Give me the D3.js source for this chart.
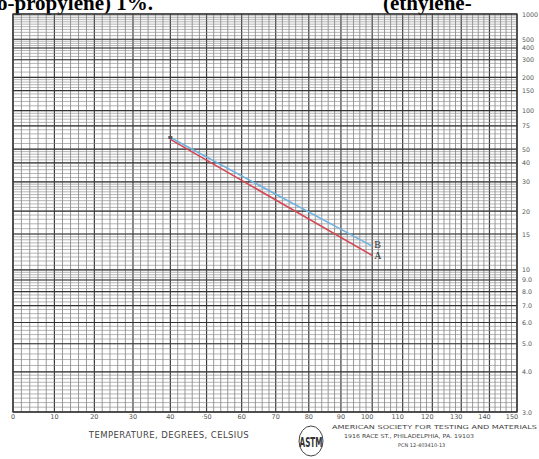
<!DOCTYPE html>
<html><head><meta charset="utf-8">
<script src="https://cdn.jsdelivr.net/npm/d3@7/dist/d3.min.js"></script>
<style>body{margin:0;background:#fff}svg{display:block}</style>
</head><body>
<script>
// ---- data ----
const temps = [40, 100];              // °C
const seriesA = [59.0, 11.7];         // cSt, red line "A"
const seriesB = [61.0, 13.0];         // cSt, blue line "B"
const seriesNames = ["A", "B"];
const xTickLabels = [0,10,20,30,40,50,60,70,80,90,100,110,120,130,140,150];
const yTickValues = [3,4,5,6,7,8,9,10,15,20,30,40,50,75,100,150,200,300,400,500,1000];
const yTickLabels = ["3.0","4.0","5.0","6.0","7.0","8.0","9.0","10","15","20","30","40","50","75","100","150","200","300","400","500","1000"];
const yMinorSteps = [[3,4,0.1],[4,6,0.2],[6,10,0.25],[10,15,0.5],[15,30,1],[30,50,2],[50,100,5],[100,200,10],[200,500,25],[500,1000,50]];
const yMajorLines = [3,4,5,6,7,8,9,10,15,20,30,40,50,75,100,150,200,300,400,500,1000];

const W = 539, H = 459;
const L = 13, R = 517, T = 14, B = 412;
const svg = d3.select("body").append("svg").attr("width", W).attr("height", H);

const xs = d3.scaleLog().domain([273.15, 423.15]).range([L, R]);
const X = t => xs(t + 273.15);
const f = v => Math.log10(Math.log10(v + 0.7));
const ys = d3.scaleLinear().domain([f(3), f(1000)]).range([B, T]);
const Y = v => ys(f(v));

// top document text (clipped by the page edge, as in the reference)
svg.append("text").attr("x", -3).attr("y", 10)
  .attr("font-family", "Liberation Serif").attr("font-weight", "bold").attr("font-size", 21)
  .text("o-propylene) 1%.");
svg.append("text").attr("x", 383).attr("y", 10)
  .attr("font-family", "Liberation Serif").attr("font-weight", "bold").attr("font-size", 21)
  .text("(ethylene-");

const g = svg.append("g");
// vertical grid
for (let t = 0; t <= 150; t += 2) {
  const major = t % 10 === 0;
  g.append("line").attr("x1", X(t)).attr("x2", X(t)).attr("y1", T).attr("y2", B)
    .attr("stroke", major ? "#3c3c3c" : "#7a7a7a").attr("stroke-width", major ? 1.2 : 0.75);
}
// horizontal minor grid
yMinorSteps.forEach(([a, b, s]) => {
  for (let v = a; v < b - 1e-9; v += s) {
    const y = Y(v);
    g.append("line").attr("x1", L).attr("x2", R).attr("y1", y).attr("y2", y)
      .attr("stroke", "#8a8a8a").attr("stroke-width", 0.65);
  }
});
yMajorLines.forEach(v => {
  const y = Y(v);
  g.append("line").attr("x1", L).attr("x2", R).attr("y1", y).attr("y2", y)
    .attr("stroke", "#333").attr("stroke-width", 1.2);
});
// frame
g.append("rect").attr("x", L).attr("y", T).attr("width", R - L).attr("height", B - T)
  .attr("fill", "none").attr("stroke", "#333").attr("stroke-width", 1.3);

// y labels
yTickValues.forEach((v, i) => {
  svg.append("text").attr("x", 522).attr("y", Math.max(Y(v), 12) + 2.5)
    .attr("font-family", "DejaVu Sans").attr("font-size", 6.3).attr("fill", "#555")
    .text(yTickLabels[i]);
});
// x labels
xTickLabels.forEach(t => {
  svg.append("text").attr("x", X(t) - (t >= 100 ? 5 : 0)).attr("y", 419).attr("text-anchor", "middle")
    .attr("font-family", "DejaVu Sans").attr("font-size", 6.5).attr("fill", "#555")
    .text(t === 50 ? "\u00B750" : t);
});
svg.append("text").attr("x", 169).attr("y", 438).attr("text-anchor", "middle")
  .attr("font-family", "DejaVu Sans").attr("font-size", 8.5).attr("fill", "#444")
  .attr("letter-spacing", 0.4).text("TEMPERATURE, DEGREES, CELSIUS");

// series lines
const line = d3.line().x((d, i) => X(temps[i])).y(d => Y(d));
svg.append("path").datum(seriesA).attr("d", line).attr("fill", "none")
  .attr("stroke", "#d24a55").attr("stroke-width", 1.6);
svg.append("path").datum(seriesB).attr("d", line).attr("fill", "none")
  .attr("stroke", "#72b2de").attr("stroke-width", 1.6);
svg.append("rect").attr("x", X(temps[0]) - 2).attr("y", Y(seriesB[0]) - 1.5).attr("width", 4).attr("height", 3)
  .attr("fill", "#555");
// series labels
[[seriesA, "A", 4], [seriesB, "B", 2]].forEach(([s, n, dy]) => {
  svg.append("text").attr("x", X(temps[1]) + 2).attr("y", Y(s[1]) + dy)
    .attr("font-family", "Liberation Serif").attr("font-size", 10).attr("fill", "#333").text(n);
});

// ASTM logo + address
const lg = svg.append("g").attr("transform", "translate(311,441)");
lg.append("ellipse").attr("rx", 12).attr("ry", 15).attr("fill", "none").attr("stroke", "#444").attr("stroke-width", 1);
lg.append("text").attr("text-anchor", "middle").attr("y", 4).attr("transform", "scale(0.8,1.6)")
  .attr("font-family", "DejaVu Sans").attr("font-weight", "bold").attr("font-size", 9).attr("fill", "#333").text("ASTM");
svg.append("text").attr("x", 332).attr("y", 429).attr("font-family", "DejaVu Sans").attr("font-size", 5.5)
  .attr("fill", "#444").attr("textLength", 205).attr("lengthAdjust", "spacingAndGlyphs").text("AMERICAN SOCIETY FOR TESTING AND MATERIALS");
svg.append("text").attr("x", 344).attr("y", 438).attr("font-family", "DejaVu Sans").attr("font-size", 5.5)
  .attr("fill", "#444").attr("textLength", 130).attr("lengthAdjust", "spacingAndGlyphs").text("1916 RACE ST., PHILADELPHIA, PA. 19103");
svg.append("text").attr("x", 398).attr("y", 447).attr("font-family", "DejaVu Sans").attr("font-size", 5)
  .attr("fill", "#444").text("PCN 12-403410-13");
</script>
</body></html>
